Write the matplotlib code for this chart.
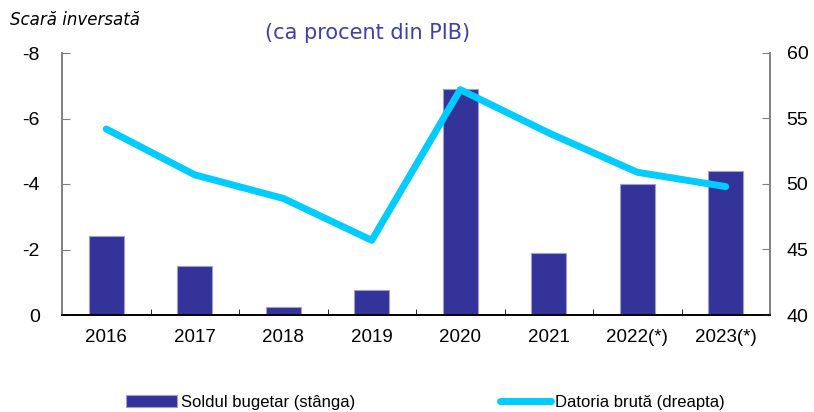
import matplotlib.pyplot as plt
import numpy as np

plt.rcParams['font.family'] = ['Liberation Sans', 'DejaVu Sans']

years = ["2016", "2017", "2018", "2019", "2020", "2021", "2022(*)", "2023(*)"]
sold_bugetar = [-2.4, -1.5, -0.25, -0.75, -6.9, -1.9, -4.0, -4.4]
datoria_bruta = [54.2, 50.7, 48.9, 45.7, 57.2, 53.9, 50.9, 49.8]

bar_color = "#333399"
line_color = "#00ccff"
title_color = "#4040a8"

fig = plt.figure(figsize=(8.14, 4.12), dpi=100)
ax = fig.add_axes([62 / 814, 1 - 315 / 412, 708 / 814, 262 / 412])
x = np.arange(len(years))

ax.bar(x, sold_bugetar, width=0.4, color=bar_color, edgecolor="#a0a0d0",
       linewidth=0.8, label="Soldul bugetar (stânga)", zorder=2)
ax.set_xlim(-0.5, len(years) - 0.5)
ax.set_ylim(0, -8)
ax.set_yticks([0, -2, -4, -6, -8])
ax.set_yticklabels(["0", "-2", "-4", "-6", "-8"])

ax2 = ax.twinx()
ax2.plot(x, datoria_bruta, color=line_color, linewidth=5,
         solid_capstyle="round", solid_joinstyle="round",
         label="Datoria brută (dreapta)", zorder=3)
ax2.set_ylim(40, 60)
ax2.set_yticks([40, 45, 50, 55, 60])

ax.set_xticks(x)
ax.set_xticklabels(years, fontsize=13.5)
ax.set_xticks(np.arange(-0.5, len(years), 1), minor=True)
ax.tick_params(axis="x", which="major", length=0, pad=10)
ax.tick_params(axis="x", which="minor", direction="in", length=4, color="black")
ax.tick_params(axis="y", direction="in", length=6, labelsize=14, pad=16, color="#808080")
ax2.tick_params(axis="y", direction="in", length=6, labelsize=14, pad=12, color="#808080")

for a in (ax, ax2):
    a.spines["top"].set_visible(False)
    a.spines["left"].set_color("#808080")
    a.spines["right"].set_color("#808080")
    a.spines["bottom"].set_color("black")
    a.spines["left"].set_linewidth(1.2)
    a.spines["right"].set_linewidth(1.2)
    a.spines["bottom"].set_linewidth(1.2)

fig.text(10 / 814, 1 - 20 / 412, "Scară inversată", fontsize=12, style="italic",
         family="DejaVu Sans", va="center", ha="left")
fig.text(368 / 814, 1 - 33 / 412, "(ca procent din PIB)", fontsize=15,
         family="DejaVu Sans", color=title_color, va="center", ha="center")

h1, l1 = ax.get_legend_handles_labels()
h2, l2 = ax2.get_legend_handles_labels()
fig.legend(h1 + h2, l1 + l2, loc="center", bbox_to_anchor=(425 / 814, 1 - 402 / 412),
           ncol=2, frameon=False, fontsize=12, handlelength=3.1,
           handleheight=0.7, handletextpad=0.2, columnspacing=8.7)

fig.savefig("out.png", dpi=100)
